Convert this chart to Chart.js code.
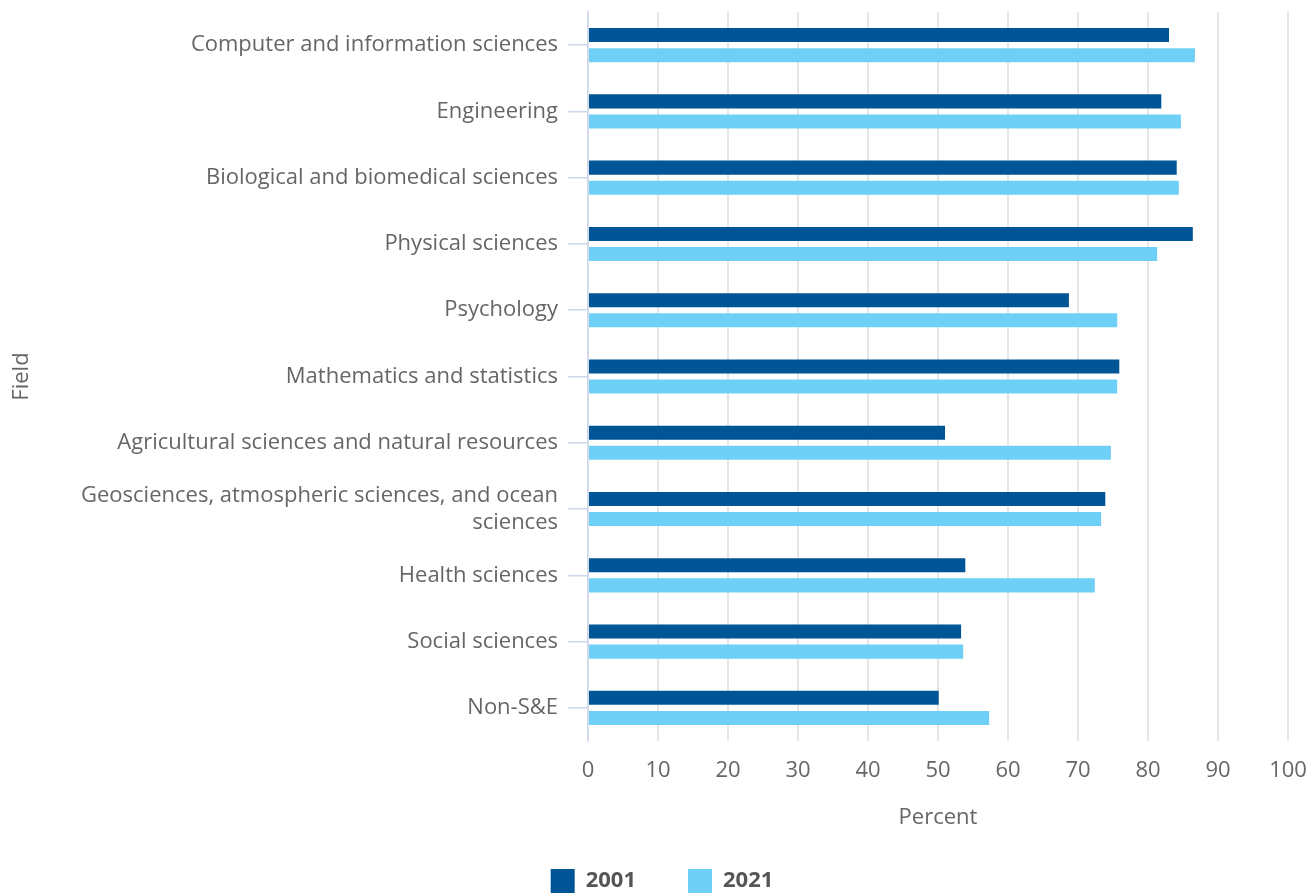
<!DOCTYPE html>
<html>
<head>
<meta charset="utf-8">
<script src="https://cdn.jsdelivr.net/npm/chart.js@4.4.0/dist/chart.umd.min.js"></script>
<style>
html, body { margin: 0; padding: 0; background: #fff; overflow: hidden; }
#wrap { position: relative; width: 1309px; height: 903px; }
</style>
</head>
<body>
<div id="wrap"><canvas id="mycanvas"></canvas></div>
<script>
var fields = [
	"Computer and information sciences",
	"Engineering",
	"Biological and biomedical sciences",
	"Physical sciences",
	"Psychology",
	"Mathematics and statistics",
	"Agricultural sciences and natural resources",
	["Geosciences, atmospheric sciences, and ocean", "sciences"],
	"Health sciences",
	"Social sciences",
	"Non-S&E"
];
var values2001 = [83.0, 81.9, 84.1, 86.4, 68.7, 75.9, 51.0, 73.9, 53.9, 53.3, 50.1];
var values2021 = [86.7, 84.7, 84.4, 81.3, 75.6, 75.6, 74.7, 73.3, 72.4, 53.6, 57.3];
var seriesNames = ["2001", "2021"];
var xMin = 0, xMax = 100, xStep = 10;

var textColor = "#666666";
var fontFamily = "'Open Sans', 'Noto Sans', sans-serif";

var chartdata = {
	labels: fields,
	datasets: [
		{
			label: seriesNames[0],
			backgroundColor: "#005596",
			borderWidth: 0,
			categoryPercentage: 0.606,
			barPercentage: 0.7,
			data: values2001
		},
		{
			label: seriesNames[1],
			backgroundColor: "#6ed0f7",
			borderWidth: 0,
			categoryPercentage: 0.606,
			barPercentage: 0.7,
			data: values2021
		}
	]
};

var ctx = document.getElementById("mycanvas");

var barGraph = new Chart(ctx, {
	type: "bar",
	data: chartdata,
	options: {
		indexAxis: "y",
		responsive: true,
		maintainAspectRatio: false,
		animation: false,
		layout: { padding: { top: 12, right: 21, left: 36, bottom: 0 } },
		plugins: {
			tooltip: { enabled: false },
			legend: {
				position: "bottom",
				labels: {
					boxWidth: 24,
					boxHeight: 24,
					padding: 52,
					color: "#555555",
					font: { family: fontFamily, size: 22, weight: "bold" }
				}
			}
		},
		scales: {
			x: {
				min: xMin,
				max: xMax,
				afterFit: function(scale) { scale.paddingLeft = 0; scale.paddingRight = 0; },
				border: { display: false },
				grid: { color: "#e6e6e6", lineWidth: 2, drawTicks: false },
				ticks: {
					stepSize: xStep,
					padding: 17,
					color: textColor,
					font: { family: fontFamily, size: 22 }
				},
				title: {
					display: true,
					text: "Percent",
					color: textColor,
					font: { family: fontFamily, size: 22 },
					padding: { top: 3.4, bottom: -14.2 }
				}
			},
			y: {
				afterFit: function(scale) {
					scale.width = 552;
					scale.paddingTop = 0;
					scale.paddingBottom = 0;
				},
				border: { display: true, color: "#ccd6eb", width: 1.5 },
				grid: { drawOnChartArea: false, offset: false, tickLength: 20, color: "#ccd6eb", lineWidth: 1.5 },
				ticks: {
					padding: 10,
					color: textColor,
					font: { family: fontFamily, size: 22 }
				},
				title: {
					display: true,
					text: "Field",
					color: textColor,
					font: { family: fontFamily, size: 22 },
					padding: { top: -27, bottom: 4 }
				}
			}
		}
	}
});
</script>
</body>
</html>
